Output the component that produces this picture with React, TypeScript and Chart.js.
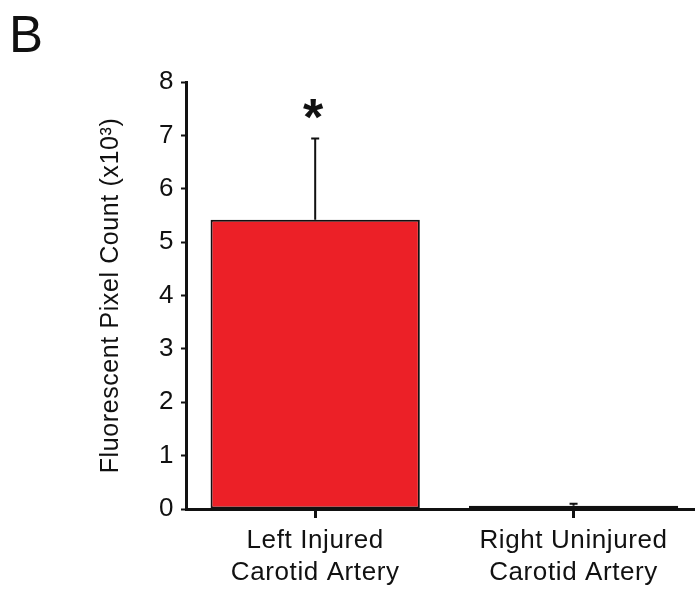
import React, { useEffect, useRef } from 'react';
import { Chart, registerables } from 'chart.js';

Chart.register(...registerables);

// ---- data ----
const categories: string[][] = [
  ['Left Injured', 'Carotid Artery'],
  ['Right Uninjured', 'Carotid Artery'],
];
const positions: number[] = [0, 1];
const values: number[] = [5.42, 0.06];
const errors: number[] = [1.52, 0.04];
const significance: string[] = ['*', ''];
const yMin = 0;
const yMax = 8;
const yStep = 1;
const panelLabel = 'B';
const yTitle = 'Fluorescent Pixel Count (x10\u00B3)';

const FONT = "'Liberation Sans', Arial, Helvetica, sans-serif";
const INK = '#111111';
const BAR_RED = '#EC2027';
const SPACING = '0.6px';

const spacingPlugin = {
  id: 'letterSpacing',
  beforeUpdate(chart: any) {
    try {
      (chart.ctx as any).letterSpacing = SPACING;
    } catch (e) {
      /* ignore */
    }
  },
  beforeDraw(chart: any) {
    try {
      (chart.ctx as any).letterSpacing = SPACING;
    } catch (e) {
      /* ignore */
    }
  },
};

const errorBarPlugin = {
  id: 'errorBars',
  afterDatasetsDraw(chart: any) {
    const meta = chart.getDatasetMeta(0);
    const yScale = chart.scales.y;
    const ctx = chart.ctx;
    ctx.save();
    (ctx as any).letterSpacing = '0px';
    ctx.strokeStyle = INK;
    ctx.lineWidth = 2;
    meta.data.forEach((el: any, i: number) => {
      const top = yScale.getPixelForValue(values[i] + errors[i]);
      const base = yScale.getPixelForValue(values[i]);
      ctx.beginPath();
      ctx.moveTo(el.x, base);
      ctx.lineTo(el.x, top);
      ctx.moveTo(el.x - 4, top);
      ctx.lineTo(el.x + 4, top);
      ctx.stroke();
      if (significance[i]) {
        ctx.fillStyle = INK;
        ctx.font = `bold 52px ${FONT}`;
        ctx.textAlign = 'center';
        ctx.textBaseline = 'alphabetic';
        ctx.fillText(significance[i], el.x - 2, top - 4);
      }
    });
    ctx.restore();
  },
  afterDraw(chart: any) {
    const ctx = chart.ctx;
    ctx.save();
    (ctx as any).letterSpacing = '0px';
    ctx.fillStyle = INK;
    ctx.font = `51px ${FONT}`;
    ctx.textAlign = 'left';
    ctx.textBaseline = 'alphabetic';
    ctx.fillText(panelLabel, 9, 52);
    ctx.restore();
  },
};

export default function App() {
  const canvasRef = useRef<HTMLCanvasElement | null>(null);

  useEffect(() => {
    if (!canvasRef.current) return;
    const chart = new Chart(canvasRef.current, {
      type: 'bar',
      data: {
        datasets: [
          {
            data: positions.map((p, i) => ({ x: p, y: values[i] })),
            backgroundColor: BAR_RED,
            borderColor: INK,
            borderWidth: 2,
            borderSkipped: false,
            barPercentage: 0.81,
            categoryPercentage: 1,
          },
        ],
      },
      options: {
        animation: false,
        responsive: true,
        maintainAspectRatio: false,
        layout: { padding: { top: 82, left: 0, right: 0, bottom: 0 } },
        plugins: {
          legend: { display: false },
          tooltip: { enabled: false },
        },
        scales: {
          x: {
            type: 'linear',
            min: -0.5,
            max: 1.47,
            offset: false,
            z: 1,
            afterBuildTicks: (s: any) => {
              s.ticks = positions.map((v) => ({ value: v }));
            },
            afterFit: (s: any) => {
              s.height = 83;
            },
            grid: {
              display: true,
              offset: false,
              drawOnChartArea: false,
              drawTicks: true,
              tickLength: 9,
              tickWidth: 3,
              tickColor: INK,
            },
            border: { display: true, width: 3, color: INK },
            ticks: {
              autoSkip: false,
              maxRotation: 0,
              padding: 7,
              color: INK,
              font: { family: FONT, size: 26, lineHeight: 1.22 },
              callback: (v: any) => {
                const idx = positions.indexOf(Number(v));
                return idx >= 0 ? categories[idx] : '';
              },
            },
          },
          y: {
            min: yMin,
            max: yMax,
            z: 1,
            afterFit: (s: any) => {
              s.width = 186;
            },
            grid: {
              display: true,
              drawOnChartArea: false,
              drawTicks: true,
              tickLength: 5,
              tickWidth: 2,
              tickColor: INK,
            },
            border: { display: true, width: 3, color: INK },
            ticks: {
              stepSize: yStep,
              padding: 7,
              color: INK,
              font: { family: FONT, size: 26 },
            },
            title: {
              display: true,
              text: yTitle,
              color: INK,
              font: { family: FONT, size: 25, lineHeight: 1.2 },
              padding: { top: 96, bottom: 0 },
            },
          },
        },
      },
      plugins: [spacingPlugin, errorBarPlugin],
    });
    return () => chart.destroy();
  }, []);

  return (
    <div
      style={{
        position: 'fixed',
        left: 0,
        top: 0,
        width: 695,
        height: 592,
        background: '#ffffff',
      }}
    >
      <canvas ref={canvasRef} />
    </div>
  );
}
